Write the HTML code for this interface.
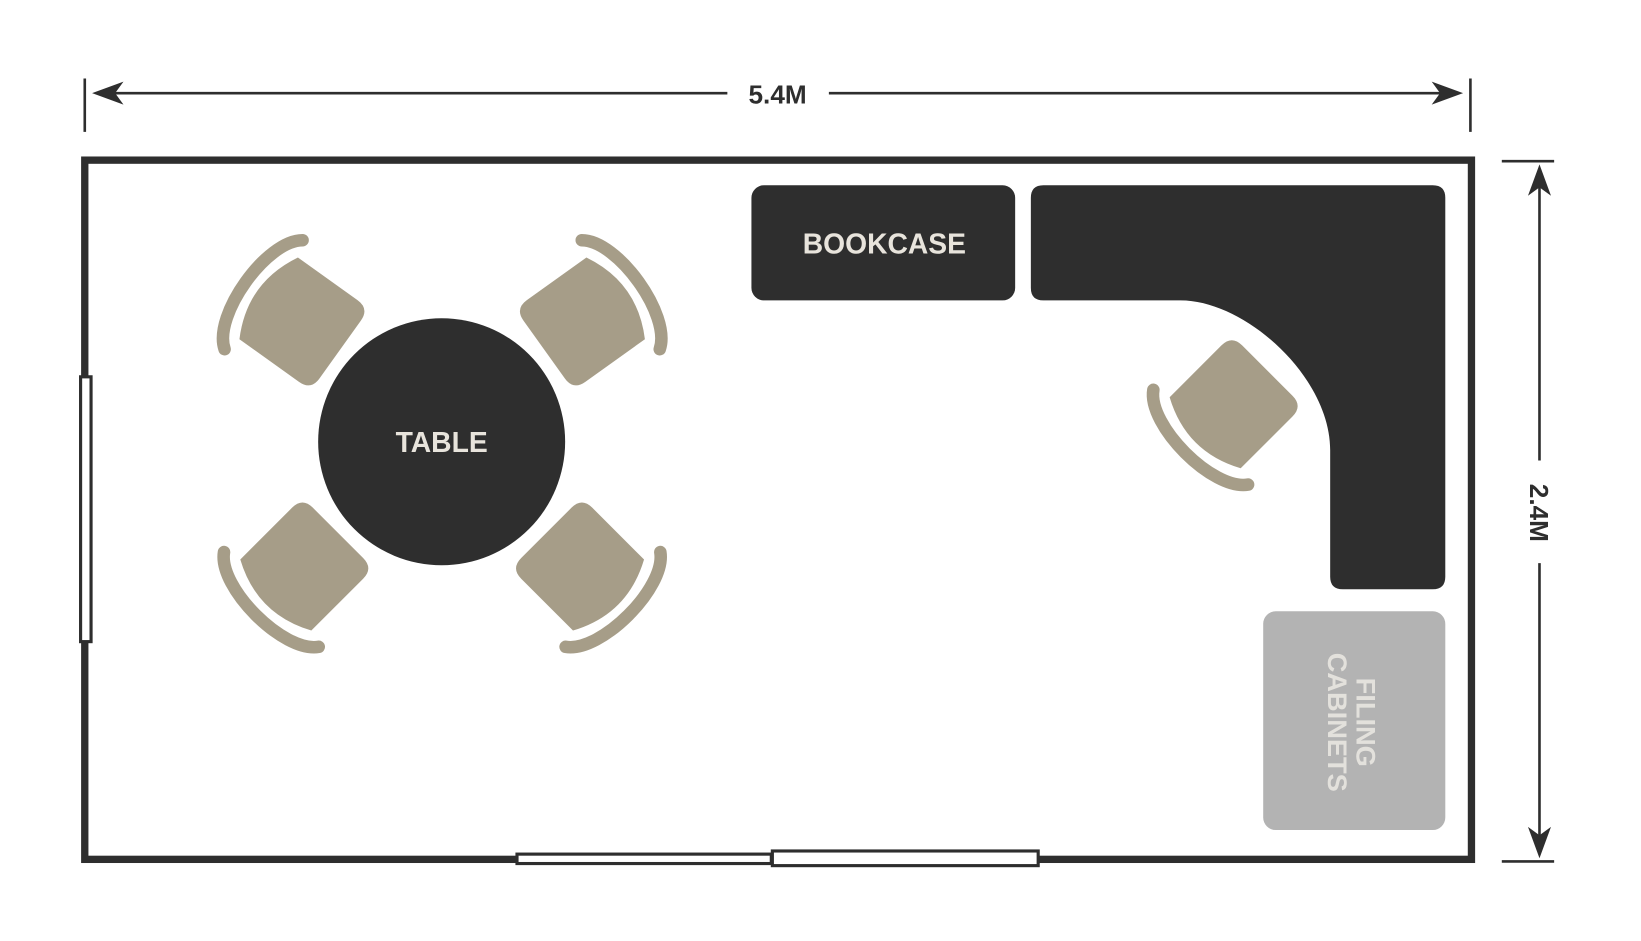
<!DOCTYPE html>
<html><head><meta charset="utf-8"><style>
html,body{margin:0;padding:0;background:#fff;}
svg{display:block;}
text{font-family:"Liberation Sans",sans-serif;font-weight:bold;}
</style></head><body>
<svg width="1641" height="941" viewBox="0 0 1568 899" preserveAspectRatio="none" xmlns="http://www.w3.org/2000/svg">
<defs>
<g id="chair">
<path d="M-48,36 L-48,-34 Q-48,-48 -34,-48 L34,-48 Q48,-48 48,-34 L48,36 Q0,62 -48,36 Z" fill="#a69d88"/>
<path d="M-64,42 C-44,70 44,70 64,42" fill="none" stroke="#a69d88" stroke-width="12" stroke-linecap="round"/>
</g>
</defs>
<g stroke="#2e2e2e" stroke-width="2.5" fill="none">
<line x1="81" y1="75" x2="81" y2="126"/>
<line x1="1405" y1="75" x2="1405" y2="126"/>
<line x1="92" y1="89" x2="695" y2="89"/>
<line x1="792" y1="89" x2="1394" y2="89"/>
<line x1="1435" y1="154" x2="1485" y2="154"/>
<line x1="1435" y1="823" x2="1485" y2="823"/>
<line x1="1471" y1="162" x2="1471" y2="440"/>
<line x1="1471" y1="538" x2="1471" y2="816"/>
</g>
<g fill="#2e2e2e">
<path d="M88,89 L118,78 L110,89 L118,100 Z"/>
<path d="M1398,89 L1368,78 L1376,89 L1368,100 Z"/>
<path d="M1471,157 L1460,187 L1471,179 L1482,187 Z"/>
<path d="M1471,820 L1460,790 L1471,798 L1482,790 Z"/>
</g>
<text x="743" y="99" font-size="25" fill="#2e2e2e" text-anchor="middle">5.4M</text>
<text transform="translate(1462,490) rotate(90)" font-size="25" fill="#2e2e2e" text-anchor="middle">2.4M</text>
<rect x="81" y="153" width="1325" height="668" fill="none" stroke="#2e2e2e" stroke-width="7"/>
<rect x="77" y="360" width="10" height="253" fill="#fff" stroke="#2e2e2e" stroke-width="3"/>
<rect x="494" y="816" width="243" height="9" fill="#fff" stroke="#2e2e2e" stroke-width="3"/>
<rect x="738" y="813" width="254" height="14" fill="#fff" stroke="#2e2e2e" stroke-width="3"/>
<rect x="718" y="177" width="252" height="110" rx="12" fill="#2e2e2e"/>
<text x="845" y="242" font-size="27" fill="#e8e4dc" text-anchor="middle">BOOKCASE</text>
<path d="M997,177 L1369,177 Q1381,177 1381,189 L1381,551 Q1381,563 1369,563 L1283,563 Q1271,563 1271,551 L1271,430 C1271,360 1190,287 1128,287 L997,287 Q985,287 985,275 L985,189 Q985,177 997,177 Z" fill="#2e2e2e"/>
<rect x="1207" y="584" width="174" height="209" rx="12" fill="#b3b3b3"/>
<text transform="translate(1296,690) rotate(90)" font-size="26" fill="#e3e1dc" text-anchor="middle">FILING</text>
<text transform="translate(1269,690) rotate(90)" font-size="26" fill="#e3e1dc" text-anchor="middle">CABINETS</text>
<circle cx="422" cy="422" r="118" fill="#2e2e2e"/>
<text x="422" y="432" font-size="27" fill="#e8e4dc" text-anchor="middle">TABLE</text>
<use href="#chair" transform="translate(286,306) rotate(125.6)"/>
<use href="#chair" transform="translate(559,306) rotate(-125.6)"/>
<use href="#chair" transform="translate(289,543) rotate(45)"/>
<use href="#chair" transform="translate(556,543) rotate(-45)"/>
<use href="#chair" transform="translate(1177,388) rotate(45)"/>
</svg>
</body></html>
